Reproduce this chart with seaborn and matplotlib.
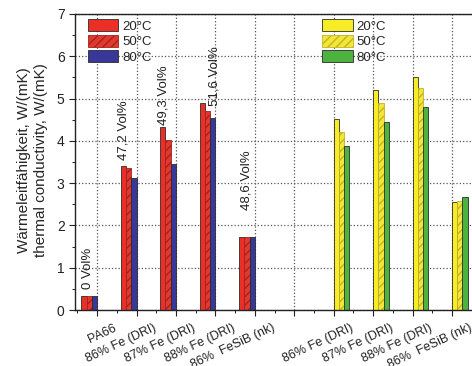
import seaborn as sns
import pandas as pd
import numpy as np
import matplotlib.pyplot as plt
import matplotlib.transforms as mtransforms
from matplotlib.ticker import MultipleLocator

# data
temps = ['20°C', '50°C', '80°C']
tick_labels = ['PA66', '86% Fe (DRI)', '87% Fe (DRI)', '88% Fe (DRI)', '86%  FeSiB (nk)', '',
               '86% Fe (DRI)', '87% Fe (DRI)', '88% Fe (DRI)', '86%  FeSiB (nk)']
red_slots = [0, 1, 2, 3, 4]
yellow_slots = [6, 7, 8, 9]
red_20 = [0.33, 3.40, 4.33, 4.90, 1.73]
red_50 = [0.33, 3.36, 4.02, 4.71, 1.73]
red_80 = [0.33, 3.12, 3.45, 4.54, 1.72]
yel_20 = [4.51, 5.20, 5.50, 2.55]
yel_50 = [4.21, 4.90, 5.25, 2.58]
yel_80 = [3.88, 4.44, 4.80, 2.67]
vol_labels = ['0 Vol%', '47,2 Vol%', '49,3 Vol%', '51,6 Vol%', '48,6 Vol%']


def long_df(slots, series, shift):
    rows = []
    for t, vals in zip(temps, series):
        for s, v in zip(slots, vals):
            rows.append({'x': s + shift, 'temp': t, 'k': v})
    return pd.DataFrame(rows)


df_red = long_df(red_slots, [red_20, red_50, red_80], -0.2)
df_yel = long_df(yellow_slots, [yel_20, yel_50, yel_80], 0.2)

sns.set_style('white')
plt.rcParams['font.family'] = ['Liberation Sans', 'DejaVu Sans']
plt.rcParams['hatch.linewidth'] = 1.0

fig = plt.figure(figsize=(4.72, 3.66), dpi=100)
ax = fig.add_axes([0.159, 0.153, 0.857, 0.809])

edge = '#2b2b2b'
sns.barplot(data=df_red, x='x', y='k', hue='temp', hue_order=temps,
            palette=['#ec2f26', '#e0392f', '#38379a'], native_scale=True,
            width=0.4, errorbar=None, edgecolor=edge, linewidth=0.6,
            saturation=1, legend=False, ax=ax)
sns.barplot(data=df_yel, x='x', y='k', hue='temp', hue_order=temps,
            palette=['#f7ec25', '#f2e63a', '#4cb33e'], native_scale=True,
            width=0.4, errorbar=None, edgecolor=edge, linewidth=0.6,
            saturation=1, legend=False, ax=ax)

# hatched 50°C bars
for idx, hc in [(1, '#a8221c'), (4, '#c4b322')]:
    for p in ax.containers[idx]:
        p.set_hatch('////')
        if hasattr(p, 'set_hatchcolor'):
            p.set_hatchcolor(hc)
        else:
            p.set_edgecolor(hc)

ax.set_xlim(-0.56, 9.7)
ax.set_ylim(0, 7)
ax.xaxis.set_minor_locator(MultipleLocator(0.5))
ax.yaxis.set_major_locator(MultipleLocator(1))
ax.yaxis.set_minor_locator(MultipleLocator(0.5))
ax.tick_params(axis='both', which='major', direction='out', length=4, width=0.8,
               colors='#222', labelsize=10, bottom=True, left=True)
ax.tick_params(axis='both', which='minor', direction='out', length=2.5, width=0.7,
               colors='#222', bottom=True, left=True)
ax.set_xticks(range(len(tick_labels)))
ax.set_xticklabels(tick_labels, rotation=25, ha='right', rotation_mode='anchor', fontsize=9)
# the category names sit a little right of their ticks
shift = mtransforms.ScaledTranslation(0.165, -0.015, fig.dpi_scale_trans)
for lab in ax.get_xticklabels():
    lab.set_transform(lab.get_transform() + shift)

ax.grid(True, which='major', linestyle=':', color='#555', linewidth=0.9)
ax.set_axisbelow(True)
for s in ['left', 'bottom', 'top']:
    ax.spines[s].set_color('#222')
    ax.spines[s].set_linewidth(1.0)
ax.spines['right'].set_visible(False)

ax.set_xlabel('')
ax.set_ylabel('Wärmeleitfähigkeit, W/(mK)\nthermal conductivity, W/(mK)',
              fontsize=11, linespacing=1.2)
ax.yaxis.set_label_coords(-0.068, 0.505)

# filler volume annotations
ann_x = [-0.22, 0.66, 1.68, 2.98, 3.78]
ann_y = [0.50, 3.55, 4.37, 4.82, 2.36]
for x, y, t in zip(ann_x, ann_y, vol_labels):
    ax.text(x, y, t, rotation=90, ha='center', va='bottom', fontsize=9.5, color='#222')

# two legends
leg_kw = dict(frameon=False, fontsize=9.5, handlelength=2.3, handleheight=1.05,
              labelspacing=0.15, handletextpad=0.3, borderpad=0, borderaxespad=0,
              loc='upper left', bbox_transform=fig.transFigure)
h_red = [ax.containers[i].patches[0] for i in range(3)]
h_yel = [ax.containers[i].patches[0] for i in range(3, 6)]
leg1 = ax.legend(h_red, temps, bbox_to_anchor=(0.186, 0.948), **leg_kw)
ax.add_artist(leg1)
ax.legend(h_yel, temps, bbox_to_anchor=(0.683, 0.948), **leg_kw)

fig.savefig('out.png', dpi=100)
